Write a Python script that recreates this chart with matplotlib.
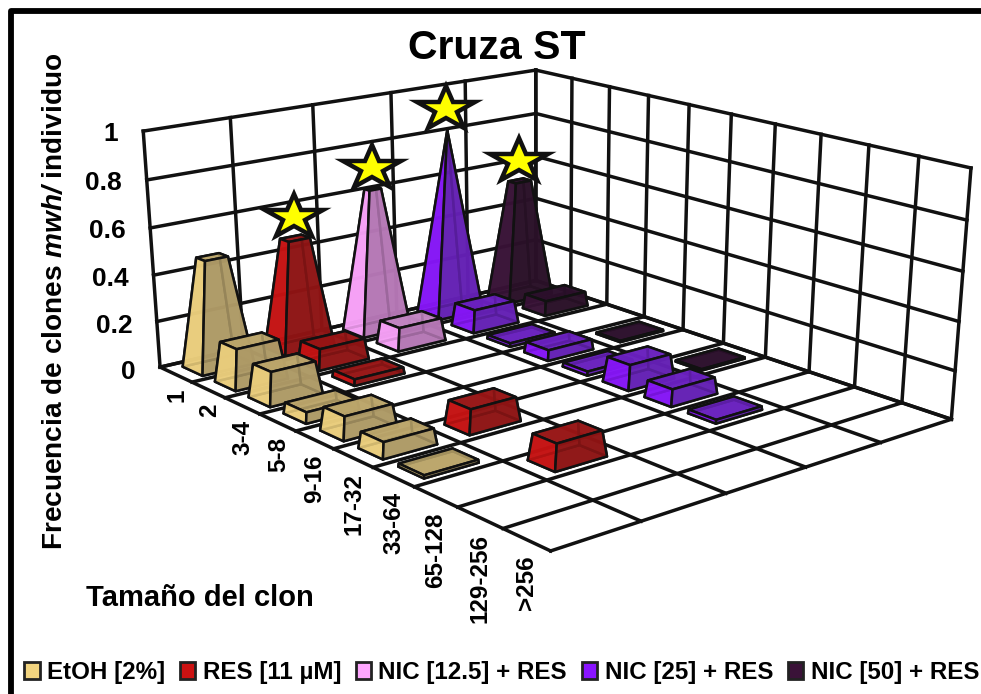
import numpy as np
import matplotlib
matplotlib.use("Agg")
import matplotlib.pyplot as plt
from matplotlib.colors import to_rgba
from matplotlib.markers import MarkerStyle
from matplotlib.patches import Patch, Rectangle
from matplotlib.transforms import Affine2D
from mpl_toolkits.mplot3d.art3d import Poly3DCollection

plt.rcParams['font.family'] = ['Liberation Sans', 'DejaVu Sans']
plt.rcParams['font.weight'] = 'bold'
plt.rcParams['mathtext.fontset'] = 'custom'
plt.rcParams['mathtext.bfit'] = 'Liberation Sans:italic:bold'

#--- DATA ---#

clone_sizes = ["1", "2", "3-4", "5-8", "9-16", "17-32", "33-64", "65-128", "129-256", ">256"]
z_ticks = [0, 0.2, 0.4, 0.6, 0.8, 1]
z_labels = ["0", "0.2", "0.4", "0.6", "0.8", "1"]

series_names = ["EtOH [2%]", "RES [11 µM]", "NIC [12.5] + RES", "NIC [25] + RES", "NIC [50] + RES"]

etoh = [0.47, 0.17, 0.14, 0.045, 0.095, 0.065, 0.012, 0, 0, 0]
res = [0.48, 0.09, 0.027, 0, 0, 0.10, 0, 0.105, 0, 0]
nic_12 = [0.63, 0.10, 0, 0, 0, 0, 0, 0, 0, 0]
nic_25 = [0.83, 0.10, 0.015, 0.045, 0.017, 0.105, 0.07, 0.015, 0, 0]
nic_50 = [0.54, 0.065, 0, 0.006, 0, 0.006, 0, 0, 0, 0]
series_values = [etoh, res, nic_12, nic_25, nic_50]

starred_series = [1, 2, 3, 4]

# left, right and top face colours of each series
left_colors = ["#F2D47F", "#CC1212", "#FFA6FF", "#8A14FF", "#3A1238"]
right_colors = ["#AE9A66", "#8E1414", "#B577B5", "#6420B4", "#2A1028"]
top_colors = ["#BDA76B", "#991515", "#C487C4", "#6A20C0", "#2C0F2C"]

#--- VIEW ---#

W, H = 981, 694
bar_width = 0.62
face_alpha = 0.85
pyramid_top = max(nic_25)

# floor and wall corners of the box as seen on the picture: (u, v, h) -> (px, py)
box_world = [(0, 0, 0), (10, 0, 0), (10, 5, 0), (0, 5, 0), (0, 0, 1), (0, 5, 1), (10, 5, 1)]
box_pixel = [(160, 368), (551, 550), (951, 421), (536, 279), (143, 131), (536, 71), (971, 167)]


def fit_projection(world, pixel):
    rows = []
    for (u, v, h), (px, py) in zip(world, pixel):
        py = H - py
        rows.append([u, v, h, 1, 0, 0, 0, 0, -px*u, -px*v, -px*h, -px])
        rows.append([0, 0, 0, 0, u, v, h, 1, -py*u, -py*v, -py*h, -py])
    P = np.linalg.svd(np.array(rows, dtype=float))[2][-1].reshape(3, 4)
    return P / P[2, 3]


P = fit_projection(box_world, box_pixel)


def figure_xy(u, v, h):
    x, y, w = P @ np.array([u, v, h, 1.0])
    return x/w/W, y/w/H


#--- FIGURE ---#

fig = plt.figure(figsize=(W/100, H/100), dpi=100)
# square axes wider than the figure is tall, so nothing is clipped
ax = fig.add_axes([0, (H - W)/2/H, 1, W/H], projection='3d', computed_zorder=False)
ax.set_axis_off()
ax.patch.set_visible(False)
ax.set_proj_type('ortho')  # only switches off the clipping, the matrix is ours


def get_proj():
    A = ax.transData.get_affine().inverted().get_matrix()
    Q = A @ P
    return np.array([Q[0], Q[1], [0, 0, 0, 1], Q[2]])


ax.get_proj = get_proj

grid_kw = dict(color="#111111", lw=2.5, zorder=1, solid_capstyle='projecting')

for v in range(6):
    ax.plot([0, 10], [v, v], [0, 0], **grid_kw)
    ax.plot([0, 0], [v, v], [0, 1], **grid_kw)
for u in range(11):
    ax.plot([u, u], [0, 5], [0, 0], **grid_kw)
    ax.plot([u, u], [5, 5], [0, 1], **grid_kw)
for z in z_ticks:
    ax.plot([0, 0], [0, 5], [z, z], **grid_kw)
    ax.plot([0, 10], [5, 5], [z, z], **grid_kw)

order = 10


def add_face(points, color):
    global order
    poly = Poly3DCollection([points], facecolors=[to_rgba(color, face_alpha)],
                            edgecolors="#111111", linewidths=1.8, zorder=order)
    poly.set_joinstyle('round')
    ax.add_collection3d(poly, autolim=False)
    order += 1


def pyramid_bar(u, v, value, i):
    # pyramid narrowing to the tallest value, cut at the value
    b = bar_width/2
    t = b*(1 - value/pyramid_top)
    corners_b = [(u-b, v-b, 0), (u+b, v-b, 0), (u+b, v+b, 0), (u-b, v+b, 0)]
    corners_t = [(u-t, v-t, value), (u+t, v-t, value), (u+t, v+t, value), (u-t, v+t, value)]
    add_face(corners_b, right_colors[i])
    add_face([corners_b[3], corners_b[0], corners_t[0], corners_t[3]], right_colors[i])
    add_face([corners_b[2], corners_b[3], corners_t[3], corners_t[2]], right_colors[i])
    if t > 0:
        add_face(corners_t, top_colors[i])
    add_face([corners_b[0], corners_b[1], corners_t[1], corners_t[0]], left_colors[i])
    add_face([corners_b[1], corners_b[2], corners_t[2], corners_t[1]], right_colors[i])


for i in range(4, -1, -1):
    for j, value in enumerate(series_values[i]):
        if value > 0:
            pyramid_bar(j + 0.5, i + 0.5, value, i)

# the stars of the reference are wider than tall
star = MarkerStyle('*', joinstyle='miter', transform=Affine2D().scale(1.35, 1))
for i in starred_series:
    ax.plot([0.5], [i + 0.5], [series_values[i][0] + 0.09], marker=star, ms=33,
            mfc="#FFFF00", mec="#111111", mew=3.2, ls='none', zorder=5000)

for j, name in enumerate(clone_sizes):
    x, y = figure_xy(j + 0.5, 0, -0.06)
    fig.text(x, y, name, rotation=90, ha='center', va='top', fontsize=17.5)

for z, name in zip(z_ticks, z_labels):
    x, y = figure_xy(0, -0.28, z + 0.005)
    fig.text(x, y, name, ha='right', va='center', fontsize=19)

fig.text(497/W, 1 - 48/H, "Cruza ST", ha='center', va='center', fontsize=29.5)
fig.text(55/W, 1 - 301/H, r"Frecuencia de clones $\mathbfit{mwh/}$ individuo", rotation=90,
         ha='center', va='center', fontsize=20.2)
fig.text(86/W, 1 - 598/H, "Tamaño del clon", ha='left', va='center', fontsize=21)

handles = [Patch(facecolor=c, edgecolor="#222222", linewidth=2) for c in left_colors]
fig.legend(handles, series_names, ncols=5, loc='lower left', bbox_to_anchor=(24/W, 10/H),
           frameon=False, fontsize=17.4, borderpad=0, borderaxespad=0, handlelength=0.65,
           handleheight=0.65, handletextpad=0.3, columnspacing=0.6, labelcolor='black')

# black frame running off the right and bottom of the picture
fig.add_artist(Rectangle((10.5/W, -20/H), (W + 40)/W, (H + 20 - 10.5)/H, transform=fig.transFigure,
                         fill=False, edgecolor='black', linewidth=4.2, joinstyle='round'))

plt.savefig("out.png", dpi=100)
plt.close()
